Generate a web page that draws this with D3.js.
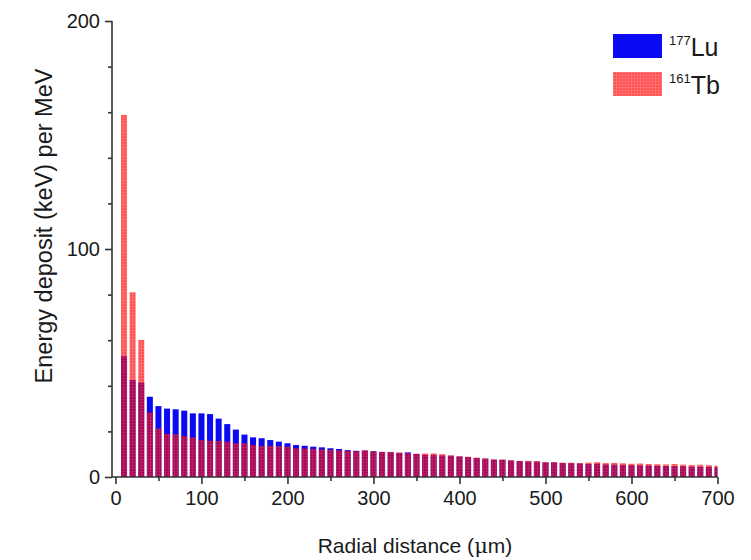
<!DOCTYPE html>
<html>
<head>
<meta charset="utf-8">
<script src="https://cdn.jsdelivr.net/npm/d3@7"></script>
<style>
body { margin: 0; background: #fff; }
svg text { font-family: "Liberation Sans", Arial, sans-serif; fill: #1a1a1a; }
.axis path, .axis line { stroke: #333; stroke-width: 1.6; }
</style>
</head>
<body>
<div id="graph"></div>
<script>
// bin centres, micrometres (10 um bins)
var radius = d3.range(10, 701, 10);

// 177Lu energy deposit per bin (keV per MeV)
var lu = [53, 42.5, 41.4, 35.2, 31.1, 30, 29.7, 29.1, 27.9, 27.9,
  27.6, 25.6, 23.2, 20.8, 18.6, 17.4, 17.0, 16.2, 15.5, 14.8,
  14.0, 13.7, 13.3, 13.0, 12.6, 12.3, 11.8, 11.5, 11.6, 11.3,
  11.0, 10.9, 10.6, 10.8, 10.1, 9.7, 9.6, 9.4, 9.3, 9.0,
  8.7, 8.3, 8.0, 7.6, 7.5, 7.2, 7.0, 6.8, 6.7, 6.4,
  6.4, 6.1, 6.0, 5.9, 5.7, 5.8, 5.5, 5.4, 5.3, 5.2,
  5.1, 5.0, 4.9, 4.8, 4.8, 4.7, 4.5, 4.5, 4.4, 4.3];

// 161Tb energy deposit per bin (keV per MeV)
var tb = [158.8, 81, 60.1, 28.3, 21.3, 18.9, 18.7, 18.0, 17.4, 16.2,
  15.9, 15.8, 15.5, 14.8, 14.8, 14.0, 13.7, 13.7, 13.6, 13.3,
  12.6, 12.5, 12.3, 12.1, 11.9, 11.7, 11.5, 11.3, 11.7, 11.2,
  11.0, 11.0, 10.7, 10.4, 10.2, 10.3, 10.4, 10.0, 9.5, 9.1,
  8.9, 8.5, 8.2, 7.7, 7.7, 7.3, 7.0, 7.1, 7.0, 6.6,
  6.5, 6.3, 6.3, 6.1, 6.3, 6.5, 6.1, 6.2, 6.0, 5.8,
  5.9, 5.7, 5.6, 5.5, 5.7, 5.4, 5.3, 5.4, 5.2, 5.0];

var xTicks = [0, 100, 200, 300, 400, 500, 600, 700];
var yTicks = [0, 100, 200];
var seriesNames = ["177", "161"];
var seriesSymbols = ["Lu", "Tb"];

var W = 751, H = 560;
var blue = "#0a0af4";
var red = "#ff0000";

var svg = d3.select("#graph").append("svg")
  .attr("width", W)
  .attr("height", H);

var x = d3.scaleLinear().domain([-4, 700]).range([112, 717.5]);
var y = d3.scaleLinear().domain([0, 200]).range([477, 21]);

var defs = svg.append("defs");
var pat = defs.append("pattern")
  .attr("id", "grid")
  .attr("width", 3).attr("height", 3)
  .attr("patternUnits", "userSpaceOnUse");
pat.append("rect").attr("width", 3).attr("height", 3).attr("fill", red);
pat.append("path").attr("d", "M0,0.5H3M0.5,0V3")
  .attr("stroke", "#ff3c3c").attr("stroke-width", 0.6);

defs.append("clipPath").attr("id", "plot")
  .append("rect")
  .attr("x", 112).attr("y", 0)
  .attr("width", x(700) - 112).attr("height", 478);

var half = 3.5; // half bar width, in um

var bars = svg.append("g").attr("clip-path", "url(#plot)");

bars.selectAll(".lu")
  .data(lu)
  .enter()
  .append("rect")
    .attr("class", "lu")
    .attr("x", function(d, i){ return x(radius[i] - half); })
    .attr("width", function(d, i){ return x(radius[i] + half) - x(radius[i] - half); })
    .attr("y", function(d){ return y(d); })
    .attr("height", function(d){ return y(0) - y(d); })
    .attr("fill", blue);

bars.selectAll(".tb")
  .data(tb)
  .enter()
  .append("rect")
    .attr("class", "tb")
    .attr("x", function(d, i){ return x(radius[i] - half); })
    .attr("width", function(d, i){ return x(radius[i] + half) - x(radius[i] - half); })
    .attr("y", function(d){ return y(d); })
    .attr("height", function(d){ return y(0) - y(d); })
    .attr("fill", "url(#grid)")
    .attr("fill-opacity", 0.68);

// axes
var xAxis = d3.axisBottom(x).tickValues(xTicks).tickSize(7).tickPadding(4).tickFormat(d3.format("d"));
var xMinor = d3.axisBottom(x).tickValues(d3.range(50, 700, 100)).tickSize(4).tickFormat("");
var yAxis = d3.axisLeft(y).tickValues(yTicks).tickSize(7).tickPadding(5).tickFormat(d3.format("d"));
var yMinor = d3.axisLeft(y).tickValues(d3.range(20, 200, 20).filter(function(v){ return v % 100; })).tickSize(4).tickFormat("");

var gx = svg.append("g").attr("class", "axis")
  .attr("transform", "translate(0," + y(0) + ")")
  .call(xAxis);
gx.select(".domain").attr("d", "M112,0H" + x(700));
gx.selectAll("text").style("font-size", "20px").attr("dy", "0.85em");

svg.append("g").attr("class", "axis")
  .attr("transform", "translate(0," + y(0) + ")")
  .call(xMinor)
  .select(".domain").remove();

var gy = svg.append("g").attr("class", "axis")
  .attr("transform", "translate(112,0)")
  .call(yAxis);
gy.select(".domain").attr("d", "M0," + y(0) + "V" + y(200));
gy.selectAll("text").style("font-size", "20px");

svg.append("g").attr("class", "axis")
  .attr("transform", "translate(112,0)")
  .call(yMinor)
  .select(".domain").remove();

// axis titles
var xt = svg.append("text")
  .attr("x", 415).attr("y", 553)
  .attr("text-anchor", "middle")
  .style("font-size", "21px");
xt.append("tspan").text("Radial distance (");
xt.append("tspan").style("font-family", "'DejaVu Serif', serif").text("\u03bc");
xt.append("tspan").text("m)");

svg.append("text")
  .attr("transform", "translate(52,226) rotate(-90)")
  .attr("text-anchor", "middle")
  .style("font-size", "23.5px")
  .text("Energy deposit (keV) per MeV");

// legend
var legend = svg.append("g");
var fills = [blue, "url(#grid)"];
var lg = legend.selectAll("g")
  .data(seriesNames)
  .enter()
  .append("g")
    .attr("transform", function(d, i){ return "translate(613," + (34 + i * 38) + ")"; });
lg.append("rect")
  .attr("width", 49).attr("height", 24)
  .attr("fill", function(d, i){ return fills[i]; })
  .attr("fill-opacity", function(d, i){ return i ? 0.68 : 1; });
var lt = lg.append("text")
  .attr("x", 56).attr("y", 22)
  .style("font-size", "25px");
lt.append("tspan")
  .style("font-size", "13px")
  .attr("dy", "-11")
  .text(function(d){ return d; });
lt.append("tspan")
  .attr("dy", "11")
  .text(function(d, i){ return seriesSymbols[i]; });
</script>
</body>
</html>
